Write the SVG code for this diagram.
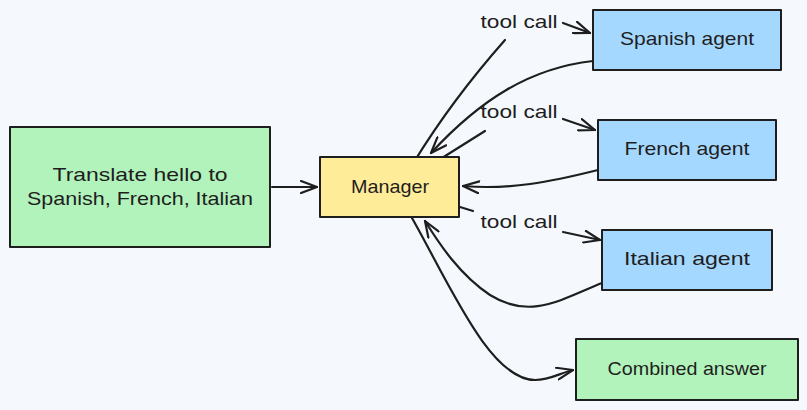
<svg xmlns="http://www.w3.org/2000/svg" width="807" height="410" viewBox="0 0 807 410">
<style>
.box{stroke:#1e1e1e;stroke-width:2;stroke-linejoin:round}
.green{fill:#b2f2bb}.yellow{fill:#ffec99}.blue{fill:#a5d8ff}
.t{font-family:"Liberation Sans","DejaVu Sans",sans-serif;font-size:19px;fill:#1e1e1e;text-anchor:middle}
.c{fill:none;stroke:#1e1e1e;stroke-width:2.2;stroke-linecap:round;stroke-linejoin:round}
</style>
<defs>
<marker id="ah" viewBox="0 0 18 14" refX="17" refY="7" markerWidth="18" markerHeight="14" markerUnits="userSpaceOnUse" orient="auto">
<path d="M1,1 L17,7 L1,13" fill="none" stroke="#1e1e1e" stroke-width="2.2" stroke-linecap="round" stroke-linejoin="round"/>
</marker>
</defs>
<rect width="807" height="410" fill="#f5f9fd"/>
<g id="connectors">
<path class="c" d="M272,187 L317,187" marker-end="url(#ah)"/>
<path class="c" d="M414,162 Q452,100 505,40"/>
<path class="c" d="M563,23 L590,33" marker-end="url(#ah)"/>
<path class="c" d="M593,61 C530,68 480,100 431,153" marker-end="url(#ah)"/>
<path class="c" d="M442,158 L485,131"/>
<path class="c" d="M563,119 L595,130" marker-end="url(#ah)"/>
<path class="c" d="M598,170 C550,182 510,190 463,186" marker-end="url(#ah)"/>
<path class="c" d="M460,207 L473,211"/>
<path class="c" d="M563,232 L600,240" marker-end="url(#ah)"/>
<path class="c" d="M602,283 C560,300 530,320 490,295 C460,275 440,245 425,221" marker-end="url(#ah)"/>
<path class="c" d="M412,218 C450,285 490,380 535,380 C550,380 560,373 573,370" marker-end="url(#ah)"/>
</g>
<g id="translate">
<rect class="box green" x="10" y="127" width="260" height="120"/>
<text class="t" x="140" y="181" textLength="175" lengthAdjust="spacingAndGlyphs">Translate hello to</text>
<text class="t" x="140" y="205" textLength="226" lengthAdjust="spacingAndGlyphs">Spanish, French, Italian</text>
</g>
<g id="manager">
<rect class="box yellow" x="320" y="157" width="139" height="60"/>
<text class="t" x="390" y="193" textLength="78" lengthAdjust="spacingAndGlyphs">Manager</text>
</g>
<g id="spanish">
<rect class="box blue" x="593" y="10" width="188" height="60"/>
<text class="t" x="687" y="45" textLength="134" lengthAdjust="spacingAndGlyphs">Spanish agent</text>
</g>
<g id="french">
<rect class="box blue" x="598" y="120" width="178" height="60"/>
<text class="t" x="687" y="155" textLength="125" lengthAdjust="spacingAndGlyphs">French agent</text>
</g>
<g id="italian">
<rect class="box blue" x="602" y="230" width="170" height="60"/>
<text class="t" x="687" y="265" textLength="126" lengthAdjust="spacingAndGlyphs">Italian agent</text>
</g>
<g id="combined">
<rect class="box green" x="576" y="339" width="222" height="61"/>
<text class="t" x="687" y="375" textLength="159" lengthAdjust="spacingAndGlyphs">Combined answer</text>
</g>
<g id="labels">
<text class="t" x="519" y="28" textLength="77" lengthAdjust="spacingAndGlyphs">tool call</text>
<text class="t" x="519" y="118" textLength="77" lengthAdjust="spacingAndGlyphs">tool call</text>
<text class="t" x="519" y="228" textLength="77" lengthAdjust="spacingAndGlyphs">tool call</text>
</g>
</svg>
